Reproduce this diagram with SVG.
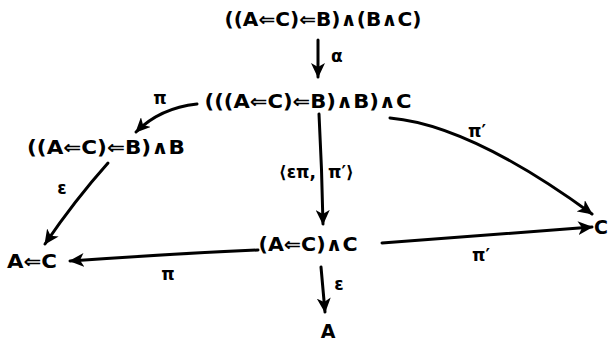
<svg xmlns="http://www.w3.org/2000/svg" width="608" height="342" viewBox="0 0 608 342">
<style>
text{font-family:"DejaVu Sans","Liberation Sans",sans-serif;font-weight:bold;fill:#000}
.n{font-size:19px}
.l{font-size:17px}
.c path{fill:none;stroke:#000;stroke-width:3;stroke-linecap:round;marker-end:url(#ah)}
</style>
<defs>
<marker id="ah" markerUnits="userSpaceOnUse" markerWidth="16" markerHeight="14" refX="14" refY="7" orient="auto">
<path d="M0,0 L15,7 L0,14 L4,7 Z" fill="#000"/>
</marker>
</defs>
<rect width="608" height="342" fill="#fff"/>
<g id="n1"><text class="n" x="323" y="26" text-anchor="middle" textLength="197" lengthAdjust="spacingAndGlyphs">((A⇐C)⇐B)∧(B∧C)</text></g>
<g id="n2"><text class="n" x="308" y="108" text-anchor="middle" textLength="207" lengthAdjust="spacingAndGlyphs">(((A⇐C)⇐B)∧B)∧C</text></g>
<g id="n3"><text class="n" x="106" y="154" text-anchor="middle" textLength="158" lengthAdjust="spacingAndGlyphs">((A⇐C)⇐B)∧B</text></g>
<g id="n4"><text class="n" x="308" y="251" text-anchor="middle" textLength="99" lengthAdjust="spacingAndGlyphs">(A⇐C)∧C</text></g>
<g id="n5"><text class="n" x="32" y="268" text-anchor="middle" textLength="50" lengthAdjust="spacingAndGlyphs">A⇐C</text></g>
<g id="n6"><text class="n" x="601" y="234" text-anchor="middle">C</text></g>
<g id="n7"><text class="n" x="328" y="338" text-anchor="middle">A</text></g>
<g id="connectors" class="c">
<path d="M318,40 L318,77"/>
<path d="M319,114 Q322,170 323,224"/>
<path d="M390,118 Q470,125 592,214"/>
<path d="M382,243 Q480,236 592,227"/>
<path d="M258,250 Q170,254 70,261"/>
<path d="M108,163 Q75,200 45,244"/>
<path d="M197,104 Q160,108 136,132"/>
<path d="M321,267 L325,312"/>
</g>
<g id="labels">
<text class="l" x="331" y="62">α</text>
<text class="l" x="316" y="178" text-anchor="end">⟨επ,</text>
<text class="l" x="328" y="178">π′⟩</text>
<text class="l" x="477" y="137" text-anchor="middle">π′</text>
<text class="l" x="481" y="261" text-anchor="middle">π′</text>
<text class="l" x="168" y="280" text-anchor="middle">π</text>
<text class="l" x="160" y="104" text-anchor="middle">π</text>
<text class="l" x="62" y="194" text-anchor="middle">ε</text>
<text class="l" x="339" y="290" text-anchor="middle">ε</text>
</g>
</svg>
